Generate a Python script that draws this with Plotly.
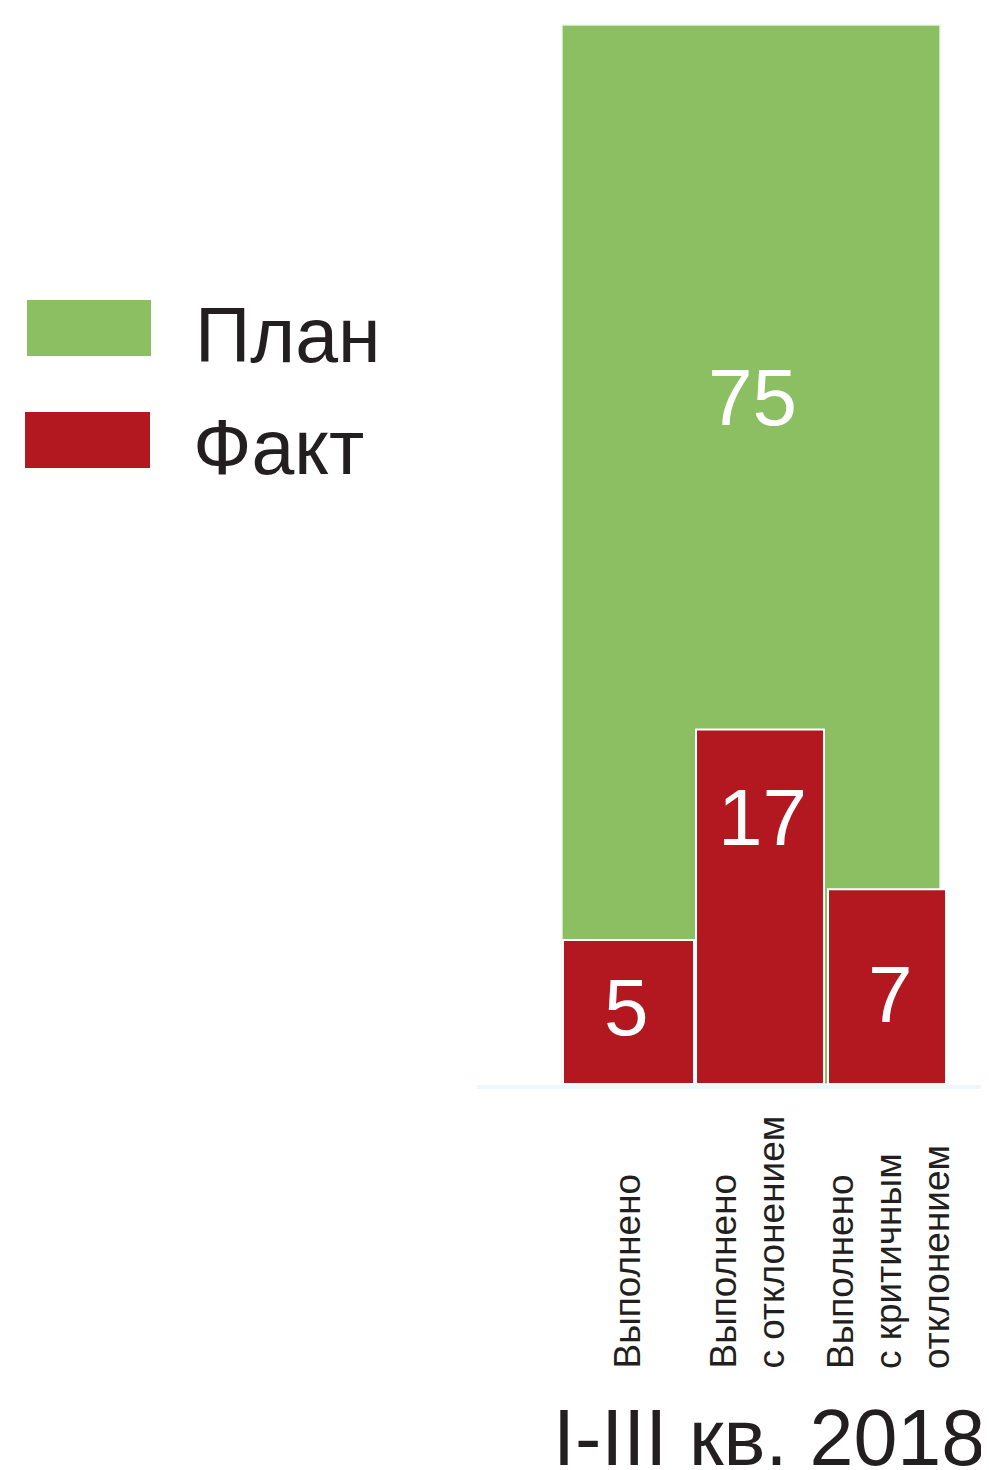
import plotly.graph_objects as go

# ---------------- data ----------------
series_names = ["План", "Факт"]
plan_value = [75]
fact_categories = ["Выполнено", "Выполнено<br>с отклонением", "Выполнено<br>с критичным<br>отклонением"]
fact_values = [5, 17, 7]
# drawn heights of the "Факт" bars (in units of the 75-plan bar)
fact_bar_heights = [10.2, 25.1, 13.8]
title_text = "I-III кв. 2018"

# ---------------- styling / layout helpers ----------------
PAGE_W, PAGE_H = 989, 1470
OFF = 8                        # default body margin of the html page
W, H = PAGE_W - OFF, PAGE_H - OFF
TOP, BASE = 15, 1084           # plot area rows, in page pixels
PX_PER_UNIT = 1059 / 75.0
X0_PX, X_UNIT = 628, 130.0

GREEN = "#8cbf62"
RED = "#b3171f"
TEXT = "#231f20"
FONT = "Liberation Sans, Arial, sans-serif"


def px_x(p):
    return (p - OFF) / W


def px_y(p):
    return (BASE - p) / (BASE - TOP)


def dx(p):
    return (p - X0_PX) / X_UNIT


fact_x = [dx(628.5), dx(760), dx(887)]
fact_w = [131 / X_UNIT, 128 / X_UNIT, 118 / X_UNIT]
plan_x = [dx(751)]
plan_w = [378 / X_UNIT]

fig = go.Figure()
fig.add_trace(go.Bar(
    x=plan_x, y=plan_value, width=plan_w, name=series_names[0],
    marker=dict(color=GREEN, line=dict(color="rgba(235,248,240,0.9)", width=1.5)),
    showlegend=False, hoverinfo="skip",
))
fig.add_trace(go.Bar(
    x=fact_x, y=fact_bar_heights, width=fact_w, name=series_names[1],
    marker=dict(color=RED, line=dict(color="white", width=2)),
    showlegend=False, hoverinfo="skip",
))

annotations = []
# value labels
annotations.append(dict(x=dx(752), y=(BASE - 397) / PX_PER_UNIT, xref="x", yref="y",
                        text=str(plan_value[0]), showarrow=False,
                        font=dict(family=FONT, size=80, color="white"), yanchor="middle"))
value_pos = [(626, 1007), (762, 817), (890, 994)]
for v, (px, py) in zip(fact_values, value_pos):
    annotations.append(dict(x=dx(px), y=(BASE - py) / PX_PER_UNIT, xref="x", yref="y",
                            text=str(v), showarrow=False,
                            font=dict(family=FONT, size=80, color="white"), yanchor="middle"))

# category labels (rotated)
cat_px = [627, 747, 888]
for c, px in zip(fact_categories, cat_px):
    annotations.append(dict(x=px_x(px), y=px_y(1371), xref="paper", yref="paper",
                            text=c, showarrow=False, textangle=-90, align="left",
                            xanchor="center", yanchor="bottom",
                            font=dict(family=FONT, size=37, color=TEXT)))

# title at bottom
annotations.append(dict(x=px_x(769), y=px_y(1437), xref="paper", yref="paper",
                        text=title_text, showarrow=False, xanchor="center", yanchor="middle",
                        font=dict(family=FONT, size=79, color=TEXT)))

# legend text
annotations.append(dict(x=px_x(193), y=px_y(335), xref="paper", yref="paper",
                        text=series_names[0], showarrow=False, xanchor="left", yanchor="middle",
                        font=dict(family=FONT, size=77, color=TEXT)))
annotations.append(dict(x=px_x(191), y=px_y(447), xref="paper", yref="paper",
                        text=series_names[1], showarrow=False, xanchor="left", yanchor="middle",
                        font=dict(family=FONT, size=77, color=TEXT)))

shapes = [
    # legend swatches
    dict(type="rect", xref="paper", yref="paper", x0=px_x(27), x1=px_x(151),
         y0=px_y(356), y1=px_y(300), fillcolor=GREEN, line=dict(width=0)),
    dict(type="rect", xref="paper", yref="paper", x0=px_x(25), x1=px_x(150),
         y0=px_y(468), y1=px_y(412), fillcolor=RED, line=dict(width=0)),
    # faint baseline
    dict(type="line", xref="paper", yref="paper", x0=px_x(477), x1=px_x(989),
         y0=px_y(1087), y1=px_y(1087), line=dict(color="#eef8fc", width=4), layer="below"),
]

fig.update_layout(
    width=W, height=H,
    margin=dict(l=0, r=0, t=TOP - OFF, b=PAGE_H - BASE, pad=0),
    paper_bgcolor="white", plot_bgcolor="white",
    barmode="overlay",
    xaxis=dict(range=[dx(OFF), dx(PAGE_W)], visible=False, fixedrange=True),
    yaxis=dict(range=[0, (BASE - TOP) / PX_PER_UNIT], visible=False, fixedrange=True),
    annotations=annotations, shapes=shapes,
    showlegend=False,
)

fig.write_html("out.html")
